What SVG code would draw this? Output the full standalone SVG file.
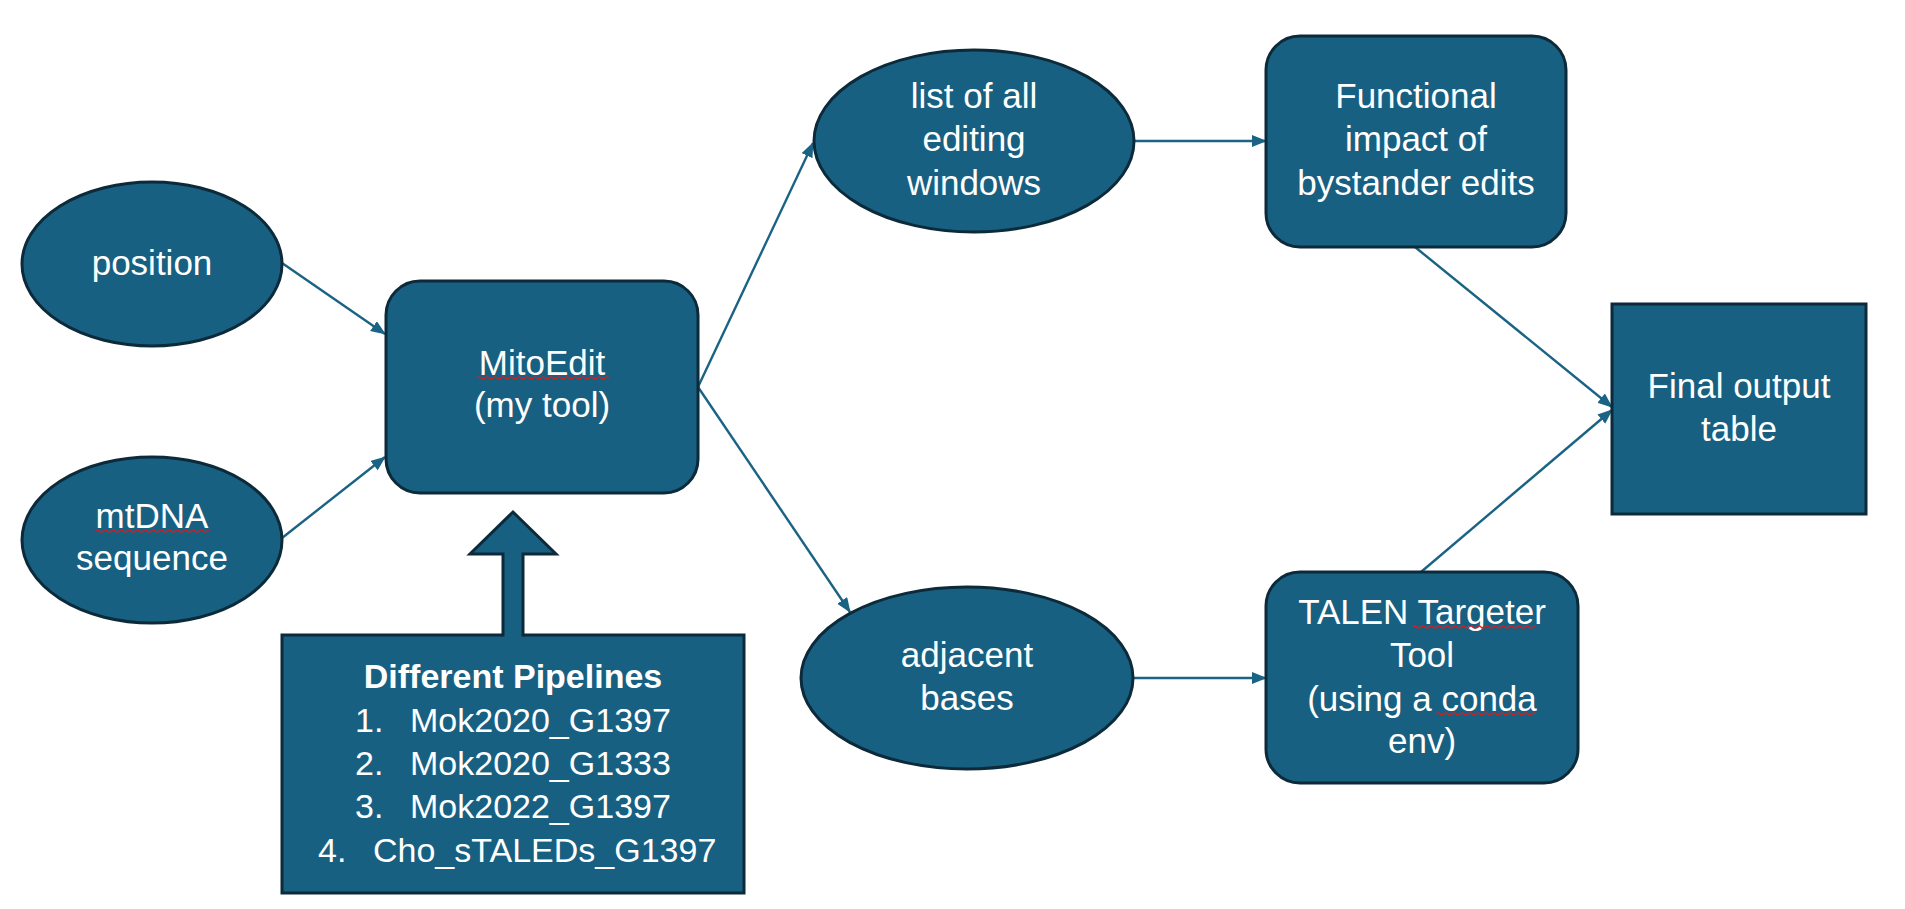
<svg xmlns="http://www.w3.org/2000/svg" width="1905" height="909" viewBox="0 0 1905 909">
<style>
.node{fill:#186081;stroke:#0c2a3a;stroke-width:3}
.t{font-family:"Liberation Sans",Arial,sans-serif;font-size:35px;fill:#ffffff;text-anchor:middle}
.p{font-family:"Liberation Sans",Arial,sans-serif;font-size:34px;fill:#ffffff}
.b{font-weight:bold}
.conn{stroke:#1a6384;stroke-width:2.4;fill:none}
.sq{stroke:#d02020;stroke-width:1.2;fill:none}
</style>
<defs>
<marker id="ah" markerUnits="userSpaceOnUse" markerWidth="16" markerHeight="14" refX="14" refY="6" orient="auto">
<path d="M0,0 L15,6 L0,12 z" fill="#1a6384"/>
</marker>
</defs>
<rect width="1905" height="909" fill="#ffffff"/>

<g id="connectors">
<line class="conn" x1="282" y1="263" x2="385" y2="334" marker-end="url(#ah)"/>
<line class="conn" x1="282" y1="538" x2="385" y2="457" marker-end="url(#ah)"/>
<line class="conn" x1="698" y1="387" x2="813" y2="143" marker-end="url(#ah)"/>
<line class="conn" x1="698" y1="387" x2="850" y2="612" marker-end="url(#ah)"/>
<line class="conn" x1="1133" y1="141" x2="1266" y2="141" marker-end="url(#ah)"/>
<line class="conn" x1="1134" y1="678" x2="1266" y2="678" marker-end="url(#ah)"/>
<line class="conn" x1="1415" y1="247" x2="1612" y2="407" marker-end="url(#ah)"/>
<line class="conn" x1="1421" y1="572" x2="1612" y2="410" marker-end="url(#ah)"/>
</g>

<g id="position">
<ellipse class="node" cx="152" cy="264" rx="130" ry="82"/>
<text class="t" x="152" y="275">position</text>
</g>

<g id="mtdna">
<ellipse class="node" cx="152" cy="540" rx="130" ry="83"/>
<text class="t" x="152" y="528">mtDNA</text>
<text class="t" x="152" y="570">sequence</text>
<path class="sq" d="M95,531 q2,-2 4,0 t4,0 t4,0 t4,0 t4,0 t4,0 t4,0 t4,0 t4,0 t4,0 t4,0 t4,0 t4,0 t4,0 t4,0 t4,0 t4,0 t4,0 t4,0 t4,0 t4,0 t4,0 t4,0 t4,0 t4,0 t4,0 t4,0 t4,0 t3,0"/>
</g>

<g id="mitoedit">
<rect class="node" x="386" y="281" width="312" height="212" rx="34" ry="34"/>
<text class="t" x="542" y="375">MitoEdit</text>
<text class="t" x="542" y="417">(my tool)</text>
<path class="sq" d="M477,378 q2,-2 4,0 t4,0 t4,0 t4,0 t4,0 t4,0 t4,0 t4,0 t4,0 t4,0 t4,0 t4,0 t4,0 t4,0 t4,0 t4,0 t4,0 t4,0 t4,0 t4,0 t4,0 t4,0 t4,0 t4,0 t4,0 t4,0 t4,0 t4,0 t4,0 t4,0 t4,0 t4,0 t4,0"/>
</g>

<g id="pipelines">
<rect class="node" x="282" y="635" width="462" height="258"/>
<path d="M503,638 L503,554 L470,554 L513,512 L556,554 L523,554 L523,638 z" fill="#186081"/>
<path d="M503,636.5 L503,554 L470,554 L513,512 L556,554 L523,554 L523,636.5" fill="none" stroke="#0c2a3a" stroke-width="3" stroke-linejoin="miter"/>
<text class="p b" x="513" y="688" text-anchor="middle">Different Pipelines</text>
<text class="p" y="732"><tspan x="355">1.</tspan><tspan x="410">Mok2020_G1397</tspan></text>
<text class="p" y="775"><tspan x="355">2.</tspan><tspan x="410">Mok2020_G1333</tspan></text>
<text class="p" y="818"><tspan x="355">3.</tspan><tspan x="410">Mok2022_G1397</tspan></text>
<text class="p" y="862"><tspan x="318">4.</tspan><tspan x="373">Cho_sTALEDs_G1397</tspan></text>
</g>

<g id="editing-windows">
<ellipse class="node" cx="974" cy="141" rx="160" ry="91"/>
<text class="t" x="974" y="108">list of all</text>
<text class="t" x="974" y="151">editing</text>
<text class="t" x="974" y="195">windows</text>
</g>

<g id="adjacent-bases">
<ellipse class="node" cx="967" cy="678" rx="166" ry="91"/>
<text class="t" x="967" y="667">adjacent</text>
<text class="t" x="967" y="710">bases</text>
</g>

<g id="functional-impact">
<rect class="node" x="1266" y="36" width="300" height="211" rx="34" ry="34"/>
<text class="t" x="1416" y="108">Functional</text>
<text class="t" x="1416" y="151">impact of</text>
<text class="t" x="1416" y="195">bystander edits</text>
</g>

<g id="talen">
<rect class="node" x="1266" y="572" width="312" height="211" rx="34" ry="34"/>
<text class="t" x="1422" y="624">TALEN Targeter</text>
<text class="t" x="1422" y="667">Tool</text>
<text class="t" x="1422" y="711">(using a conda</text>
<text class="t" x="1422" y="753">env)</text>
<path class="sq" d="M1413,627 q2,-2 4,0 t4,0 t4,0 t4,0 t4,0 t4,0 t4,0 t4,0 t4,0 t4,0 t4,0 t4,0 t4,0 t4,0 t4,0 t4,0 t4,0 t4,0 t4,0 t4,0 t4,0 t4,0 t4,0 t4,0 t4,0 t4,0 t4,0 t4,0 t4,0 t4,0 t3,0"/>
<path class="sq" d="M1436,714 q2,-2 4,0 t4,0 t4,0 t4,0 t4,0 t4,0 t4,0 t4,0 t4,0 t4,0 t4,0 t4,0 t4,0 t4,0 t4,0 t4,0 t4,0 t4,0 t4,0 t4,0 t4,0 t4,0 t4,0 t4,0 t4,0"/>
</g>

<g id="final-output">
<rect class="node" x="1612" y="304" width="254" height="210"/>
<text class="t" x="1739" y="398">Final output</text>
<text class="t" x="1739" y="441">table</text>
</g>
</svg>
